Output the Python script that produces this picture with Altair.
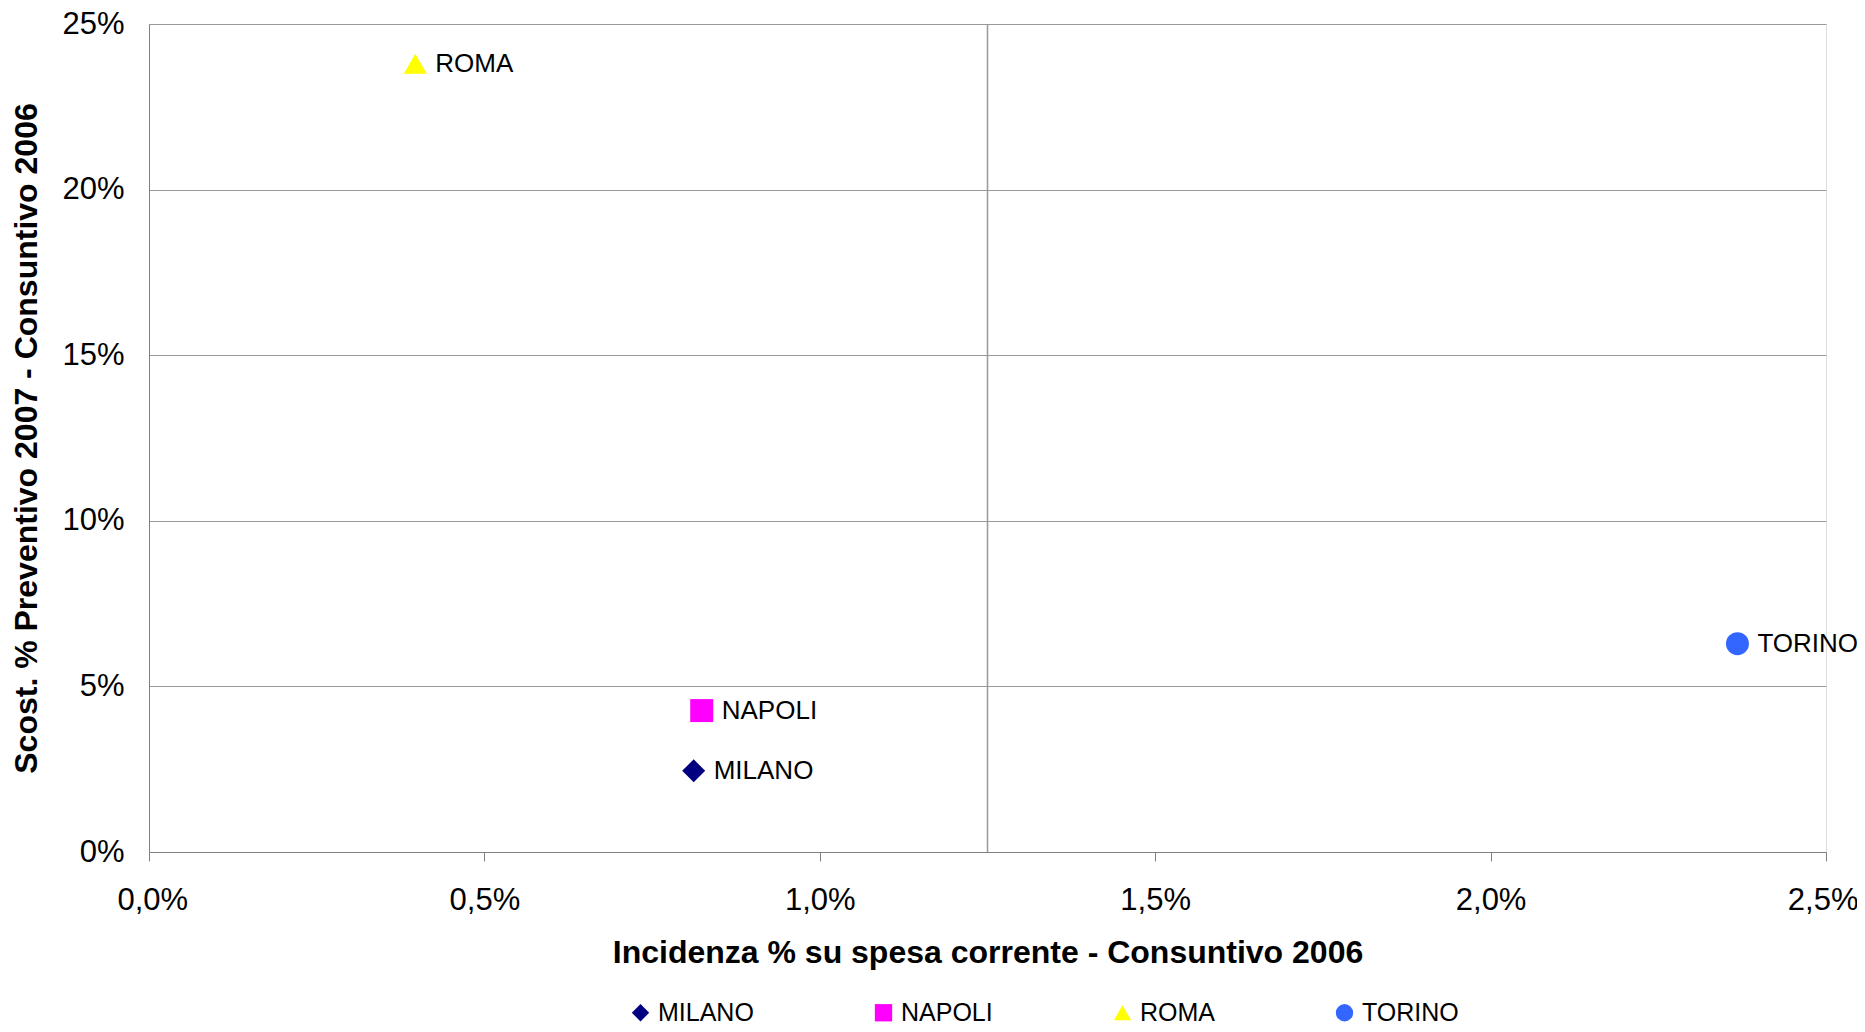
import altair as alt
import pandas as pd

cities = ["MILANO", "NAPOLI", "ROMA", "TORINO"]
incidenza = [0.00812, 0.00824, 0.00397, 0.02368]
scostamento = [0.0245, 0.0427, 0.2380, 0.0629]
colors = ["#000080", "#FF00FF", "#FFFF00", "#3366FF"]
shapes = ["diamond", "square", "triangle-up", "circle"]
x_ticks = [0, 0.005, 0.01, 0.015, 0.02, 0.025]
y_ticks = [0, 0.05, 0.10, 0.15, 0.20, 0.25]
divider = [0.0125]

x_title = "Incidenza % su spesa corrente - Consuntivo 2006"
y_title = "Scost. % Preventivo 2007 - Consuntivo 2006"

df = pd.DataFrame({"city": cities, "x": incidenza, "y": scostamento})
div_df = pd.DataFrame({"x": divider})

FONT = "Liberation Sans"
W, H = 1677, 828

xscale = alt.Scale(domain=[0, 0.025], nice=False, zero=False)
yscale = alt.Scale(domain=[0, 0.25], nice=False, zero=False)

x_axis = alt.Axis(
    values=x_ticks,
    labelExpr="replace(format(datum.value, '.1%'), '.', ',')",
    grid=False,
    tickSize=9,
    tickColor="#808080",
    domainColor="#808080",
    labelFontSize=31,
    labelPadding=39,
    labelBaseline="middle",
    labelFlush=True,
    labelFlushOffset=32,
    labelOverlap=False,
    labelColor="#000000",
    labelFont=FONT,
    title=x_title,
    titleFont=FONT,
    titleFontSize=32,
    titleFontWeight="bold",
    titleColor="#000000",
    titleX=W / 2,
    titleY=100,
    titleBaseline="middle",
    titleAlign="center",
)

y_axis = alt.Axis(
    values=y_ticks,
    format=".0%",
    grid=True,
    gridColor="#999999",
    gridWidth=1,
    ticks=False,
    domainColor="#808080",
    labelFontSize=31,
    labelPadding=25,
    labelFlush=False,
    labelOverlap=False,
    labelColor="#000000",
    labelFont=FONT,
    title=y_title,
    titleFont=FONT,
    titleFontSize=32,
    titleFontWeight="bold",
    titleColor="#000000",
    titleAngle=270,
    titleX=-123,
    titleY=H / 2,
    titleBaseline="middle",
    titleAlign="center",
)

rule = alt.Chart(div_df).mark_rule(color="#999999", strokeWidth=1.5).encode(
    x=alt.X("x:Q", scale=xscale, axis=x_axis)
)

points = alt.Chart(df).mark_point(filled=True, size=529, opacity=1, strokeWidth=0).encode(
    x=alt.X("x:Q", scale=xscale, axis=x_axis),
    y=alt.Y("y:Q", scale=yscale, axis=y_axis),
    color=alt.Color(
        "city:N",
        scale=alt.Scale(domain=cities, range=colors),
        legend=alt.Legend(
            title=None,
            orient="none",
            direction="horizontal",
            columns=4,
            legendX=479,
            legendY=976,
            labelFontSize=25,
            labelFont=FONT,
            labelColor="#000000",
            symbolSize=300,
            symbolStrokeWidth=0,
            labelOffset=5,
            columnPadding=117,
            padding=0,
        ),
    ),
    shape=alt.Shape("city:N", scale=alt.Scale(domain=cities, range=shapes), legend=None),
)

labels = alt.Chart(df).mark_text(
    align="left", baseline="middle", dx=20, fontSize=26, font=FONT, color="#000000"
).encode(
    x=alt.X("x:Q", scale=xscale),
    y=alt.Y("y:Q", scale=yscale),
    text="city:N",
)

chart = (
    alt.layer(rule, points, labels)
    .properties(
        width=W,
        height=H,
        autosize=alt.AutoSizeParams(type="none"),
        padding={"left": 141, "top": 16, "right": 31, "bottom": 172},
    )
    .configure_view(stroke="#808080", strokeWidth=1)
    .configure(background="#ffffff")
)

chart.save("out.html", embed_options={"renderer": "svg", "actions": False})
